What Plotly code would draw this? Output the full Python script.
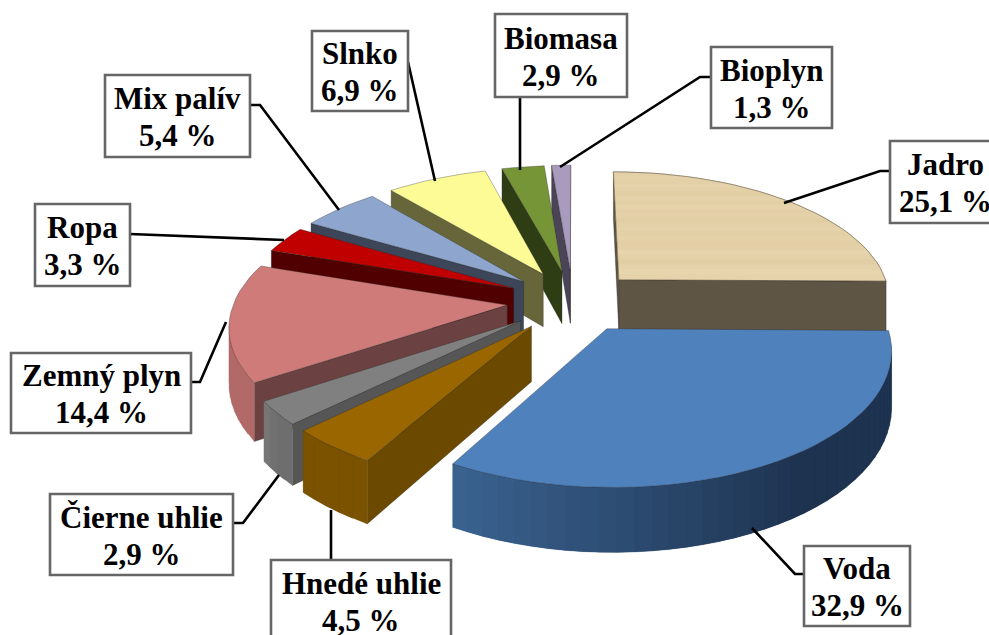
import numpy as np
import plotly.graph_objects as go

# 1. Data
labels = ['Jadro', 'Voda', 'Hnedé uhlie', 'Čierne uhlie', 'Zemný plyn', 'Ropa', 'Mix palív', 'Slnko', 'Biomasa', 'Bioplyn']
values = [25.1, 32.9, 4.5, 2.9, 14.4, 3.3, 5.4, 6.9, 2.9, 1.3]
value_text = ['25,1 %', '32,9 %', '4,5 %', '2,9 %', '14,4 %', '3,3 %', '5,4 %', '6,9 %', '2,9 %', '1,3 %']

# 2. Slice styles
top_colors = ['#E4D1A8', '#4F81BD', '#996600', '#808080', '#CF7B79', '#C00000', '#8EA6CE', '#FDFB96', '#769537', '#A99BBD']
cut_colors = ['#5F5545', '#2F4F75', '#6B4A00', '#565656', '#6B4241', '#500000', '#3C4658', '#67663A', '#2F3D15', '#4A4456']
wall_dark = ['#5F5545', '#1E3350', '#7A5200', '#6E6E6E', '#B26A69', '#500000', '#3C4658', '#67663A', '#2F3D15', '#4A4456']
wall_light = ['#5F5545', '#3A6391', '#7A5200', '#787878', '#B26A69', '#500000', '#3C4658', '#67663A', '#2F3D15', '#4A4456']
jadro_bands = ['#E3CFA6', '#E5D2A9', '#E4D0A7', '#E6D3AB', '#E4D1A8', '#E2CEA5', '#E5D2AA', '#E3CFA6', '#E6D3AB',
               '#E3CFA6', '#E5D1A9', '#E2CEA4', '#E4D1A8', '#E6D3AB', '#E3D0A7', '#E5D2A9', '#E3CFA6', '#E4D0A8',
               '#E6D4AC', '#E4D1A8', '#E2CEA5', '#E5D2AA', '#E7D5AE', '#E6D3AB']
draw_order = [9, 8, 7, 6, 5, 4, 3, 2, 0, 1]

# 3. Label boxes and leader lines, in page pixels
box_x0 = [890, 804, 271, 50, 11, 35, 105, 312, 495, 711]
box_x1 = [1000, 910, 451, 233, 191, 130, 250, 408, 627, 832]
box_y0 = [141, 546, 560, 494, 353, 204, 75, 31, 14, 47]
box_y1 = [223, 626, 642, 575, 433, 286, 157, 111, 97, 128]
leader_x = [[889, 880, 784], [804, 795, 752], [331, 331], [233, 243, 279], [191, 200, 226],
            [130, 284], [250, 260, 339], [408, 435], [520, 520], [711, 700, 560]]
leader_y = [[171, 171, 203], [574, 574, 528], [560, 510], [523, 523, 475], [382, 382, 322],
            [234, 240], [105, 105, 210], [62, 181], [97, 170], [77, 77, 167]]

# 4. Pie geometry
CX, CY = 573, 301
RADIUS = 273
EXPLODE = 66
HEIGHT = 54
TILT = 0.47
PERSP = 0.000509


def project(x, z, h=0.0):
    w = 1 / (1 - z * PERSP)
    return CX + x * w, CY + z * TILT * w + h * w


def mix(c0, c1, t):
    a = [int(c0[i:i + 2], 16) for i in (1, 3, 5)]
    b = [int(c1[i:i + 2], 16) for i in (1, 3, 5)]
    return '#%02x%02x%02x' % tuple(round(p + (q - p) * t) for p, q in zip(a, b))


def signed_area(xs, ys):
    xs, ys = np.asarray(xs), np.asarray(ys)
    return 0.5 * np.sum(xs * np.roll(ys, -1) - np.roll(xs, -1) * ys)


fig = go.Figure()


def poly(xs, ys, color, edge=None, width=0.6):
    fig.add_trace(go.Scatter(
        x=list(xs) + [xs[0]], y=list(ys) + [ys[0]], mode='lines', fill='toself',
        fillcolor=color, line=dict(color=edge or color, width=width),
        hoverinfo='skip', showlegend=False,
    ))


shares = np.array(values) / sum(values) * 2 * np.pi
ends = np.cumsum(shares)
starts = ends - shares

# 5. Draw slices back to front
for i in draw_order:
    a0, a1 = starts[i], ends[i]
    mid = (a0 + a1) / 2
    ox, oz = EXPLODE * np.sin(mid), -EXPLODE * np.cos(mid)
    steps = max(4, int((a1 - a0) / np.radians(3)))
    ang = np.linspace(a0, a1, steps + 1)
    rim_x = ox + RADIUS * np.sin(ang)
    rim_z = oz - RADIUS * np.cos(ang)

    # Cut faces, only the ones turned to the viewer
    edge = 'rgba(40,40,40,0.55)'
    for ex, ez, sign in ((rim_x[0], rim_z[0], 1), (rim_x[-1], rim_z[-1], -1)):
        p = [project(ox, oz), project(ex, ez), project(ex, ez, HEIGHT), project(ox, oz, HEIGHT)]
        xs, ys = zip(*p)
        if signed_area(xs, ys) * sign < 0:
            poly(xs, ys, cut_colors[i], edge)

    # Outer wall in narrow strips, each overlapping the next so no seams show
    for j in range(steps):
        k = min(j + 2, steps)
        p = [project(rim_x[j], rim_z[j]), project(rim_x[k], rim_z[k]),
             project(rim_x[k], rim_z[k], HEIGHT), project(rim_x[j], rim_z[j], HEIGHT)]
        xs, ys = zip(*p)
        if signed_area(xs, ys) < 0:
            t = min(1.0, max(0.0, ((j + 0.5) / steps - 0.45) / 0.55))
            poly(xs, ys, mix(wall_dark[i], wall_light[i], t), width=0.2)

    # Top face
    top = [project(ox, oz)] + [project(a, b) for a, b in zip(rim_x, rim_z)]
    xs, ys = zip(*top)
    poly(xs, ys, top_colors[i], edge)

    # Wood grain on the Jadro slice
    if i == 0:
        cuts = np.linspace(rim_z.min(), oz, len(jadro_bands) + 1)
        for b, shade in enumerate(jadro_bands):
            zz = np.linspace(cuts[b], cuts[b + 1], 4)
            half = np.sqrt(np.maximum(RADIUS**2 - (zz - oz)**2, 0))
            right = [project(ox + h, z) for h, z in zip(half, zz)]
            left = [project(ox, z) for z in zz[::-1]]
            bx, by = zip(*(right + left))
            poly(bx, by, shade, shade, 0.3)
        fig.add_trace(go.Scatter(x=list(xs) + [xs[0]], y=list(ys) + [ys[0]], mode='lines',
                                 line=dict(color='rgba(70,60,45,0.6)', width=0.7),
                                 hoverinfo='skip', showlegend=False))

# 6. Leader lines
for lx, ly in zip(leader_x, leader_y):
    fig.add_trace(go.Scatter(x=lx, y=ly, mode='lines', line=dict(color='black', width=2.6),
                             hoverinfo='skip', showlegend=False))

# 7. Label boxes
for name, txt, x0, x1, y0, y1 in zip(labels, value_text, box_x0, box_x1, box_y0, box_y1):
    fig.add_shape(type='rect', x0=x0, x1=x1, y0=y0, y1=y1, xref='x', yref='y', layer='above',
                  fillcolor='white', line=dict(color='#666666', width=2.6))
    for line, dy in ((name, -17.5), (txt, 19.5)):
        fig.add_annotation(
            text=f'<b>{line}</b>', x=(x0 + x1) / 2, y=(y0 + y1) / 2 + dy, xref='x', yref='y',
            showarrow=False, align='center', xanchor='center', yanchor='middle',
            font=dict(family='Liberation Serif', size=31, color='black'),
        )

fig.update_layout(
    width=989, height=635, autosize=False,
    margin=dict(l=0, r=0, t=0, b=0),
    paper_bgcolor='white', plot_bgcolor='white', showlegend=False,
    xaxis=dict(range=[0, 989], visible=False, fixedrange=True),
    yaxis=dict(range=[635, 0], visible=False, fixedrange=True),
)

fig.write_html("out.html", config=dict(displayModeBar=False), post_script="document.body.style.margin='0';")
